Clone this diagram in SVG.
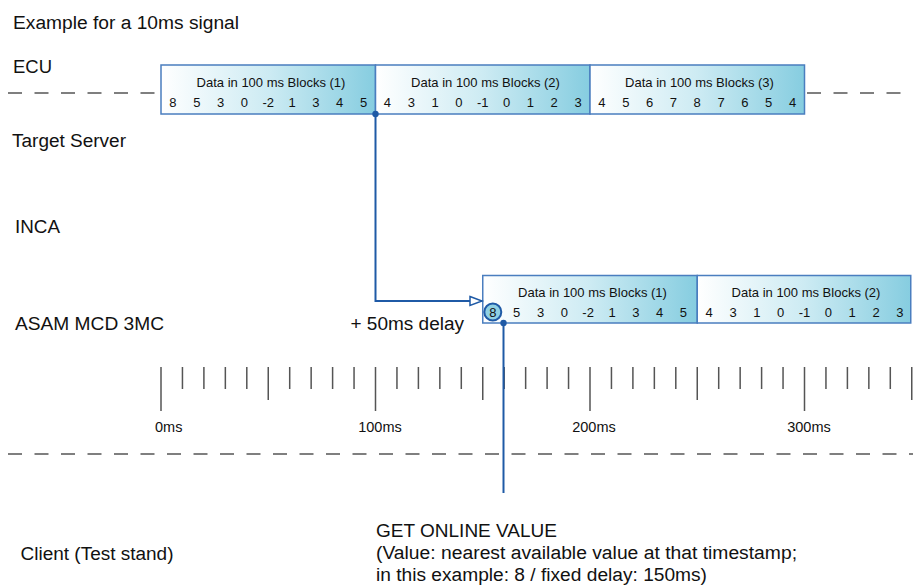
<svg xmlns="http://www.w3.org/2000/svg" width="913" height="588" viewBox="0 0 913 588">
<style>
text{font-family:"Liberation Sans",Arial,sans-serif;fill:#111}
.lbl{font-size:18px}
.hdr{font-size:13px;text-anchor:middle}
.num{font-size:13px;text-anchor:middle}
.tl{font-size:14.5px;text-anchor:middle}
.blk{fill:url(#g);stroke:#4a7ebf;stroke-width:1.5}
.dash{stroke:#555;stroke-width:1.5;stroke-dasharray:14 12.5;fill:none}
.tk{stroke:#555;stroke-width:1.5}
.con{stroke:#1f5aa6;stroke-width:2;fill:none}
</style>
<defs>
<linearGradient id="g" x1="0" y1="0" x2="1" y2="0">
<stop offset="0" stop-color="#ffffff"/>
<stop offset="0.5" stop-color="#cdebf3"/>
<stop offset="1" stop-color="#86cde0"/>
</linearGradient>
<marker id="arr" markerUnits="userSpaceOnUse" markerWidth="16" markerHeight="14" refX="13" refY="6" orient="auto" viewBox="0 0 16 12">
<path d="M1,1.5 L13,6 L1,10.5 Z" fill="#fff" stroke="#1f5aa6" stroke-width="1.5"/>
</marker>
</defs>
<rect width="913" height="588" fill="#fff"/>

<g id="labels">
<text class="lbl" x="13" y="29" textLength="226" lengthAdjust="spacingAndGlyphs">Example for a 10ms signal</text>
<text class="lbl" x="13" y="73" textLength="39" lengthAdjust="spacingAndGlyphs">ECU</text>
<text class="lbl" x="12" y="147" textLength="114" lengthAdjust="spacingAndGlyphs">Target Server</text>
<text class="lbl" x="15" y="233" textLength="45" lengthAdjust="spacingAndGlyphs">INCA</text>
<text class="lbl" x="15" y="329.5" textLength="149" lengthAdjust="spacingAndGlyphs">ASAM MCD 3MC</text>
<text class="lbl" x="20.5" y="560" textLength="153" lengthAdjust="spacingAndGlyphs">Client (Test stand)</text>
</g>

<g id="lanes">
<line class="dash" x1="8" y1="93" x2="161" y2="93"/>
<line class="dash" x1="807" y1="93" x2="913" y2="93"/>
<line class="dash" x1="8" y1="454" x2="913" y2="454"/>
</g>

<g id="ecu-block-1">
<rect class="blk" x="161" y="65" width="214.5" height="49"/>
<text class="hdr" x="271" y="87">Data in 100 ms Blocks (1)</text>
<text class="num" x="172.9" y="106.5">8</text><text class="num" x="196.8" y="106.5">5</text><text class="num" x="220.6" y="106.5">3</text><text class="num" x="244.4" y="106.5">0</text><text class="num" x="268.2" y="106.5">-2</text><text class="num" x="292.1" y="106.5">1</text><text class="num" x="315.9" y="106.5">3</text><text class="num" x="339.7" y="106.5">4</text><text class="num" x="363.6" y="106.5">5</text>
</g>
<g id="ecu-block-2">
<rect class="blk" x="375.5" y="65" width="214.5" height="49"/>
<text class="hdr" x="485.5" y="87">Data in 100 ms Blocks (2)</text>
<text class="num" x="387.4" y="106.5">4</text><text class="num" x="411.3" y="106.5">3</text><text class="num" x="435.1" y="106.5">1</text><text class="num" x="458.9" y="106.5">0</text><text class="num" x="482.7" y="106.5">-1</text><text class="num" x="506.6" y="106.5">0</text><text class="num" x="530.4" y="106.5">1</text><text class="num" x="554.2" y="106.5">2</text><text class="num" x="578.1" y="106.5">3</text>
</g>
<g id="ecu-block-3">
<rect class="blk" x="590" y="65" width="214.5" height="49"/>
<text class="hdr" x="699.5" y="87">Data in 100 ms Blocks (3)</text>
<text class="num" x="601.9" y="106.5">4</text><text class="num" x="625.8" y="106.5">5</text><text class="num" x="649.6" y="106.5">6</text><text class="num" x="673.4" y="106.5">7</text><text class="num" x="697.2" y="106.5">8</text><text class="num" x="721.1" y="106.5">7</text><text class="num" x="744.9" y="106.5">6</text><text class="num" x="768.7" y="106.5">5</text><text class="num" x="792.6" y="106.5">4</text>
</g>

<g id="asam-block-1">
<rect class="blk" x="482.75" y="275.5" width="214.5" height="47.5"/>
<text class="hdr" x="592.5" y="296.5">Data in 100 ms Blocks (1)</text>
<circle cx="492.8" cy="312" r="8.5" fill="#8fd0e3" stroke="#1f5aa6" stroke-width="2"/>
<text class="num" x="492.8" y="316.7">8</text><text class="num" x="516.6" y="316.7">5</text><text class="num" x="540.5" y="316.7">3</text><text class="num" x="564.3" y="316.7">0</text><text class="num" x="588.1" y="316.7">-2</text><text class="num" x="612" y="316.7">1</text><text class="num" x="635.8" y="316.7">3</text><text class="num" x="659.6" y="316.7">4</text><text class="num" x="683.4" y="316.7">5</text>
</g>
<g id="asam-block-2">
<rect class="blk" x="697.25" y="275.5" width="213.5" height="47.5"/>
<text class="hdr" x="806" y="296.5">Data in 100 ms Blocks (2)</text>
<text class="num" x="709.2" y="316.7">4</text><text class="num" x="733" y="316.7">3</text><text class="num" x="756.8" y="316.7">1</text><text class="num" x="780.7" y="316.7">0</text><text class="num" x="804.5" y="316.7">-1</text><text class="num" x="828.3" y="316.7">0</text><text class="num" x="852.2" y="316.7">1</text><text class="num" x="876" y="316.7">2</text><text class="num" x="899.8" y="316.7">3</text>
</g>

<g id="timeline">
<path class="tk" d="M161,367V411 M182.45,367V389 M203.9,367V389 M225.35,367V389 M246.8,367V389 M268.25,367V400 M289.7,367V389 M311.15,367V389 M332.6,367V389 M354.05,367V389 M375.5,367V411 M396.95,367V389 M418.4,367V389 M439.85,367V389 M461.3,367V389 M482.75,367V400 M504.2,367V389 M525.65,367V389 M547.1,367V389 M568.55,367V389 M590,367V411 M611.45,367V389 M632.9,367V389 M654.35,367V389 M675.8,367V389 M697.25,367V400 M718.7,367V389 M740.15,367V389 M761.6,367V389 M783.05,367V389 M804.5,367V411 M825.95,367V389 M847.4,367V389 M868.85,367V389 M890.3,367V389 M911.75,367V400"/>
<text class="tl" x="155" y="431.5" style="text-anchor:start">0ms</text>
<text class="tl" x="380" y="431.5">100ms</text>
<text class="tl" x="594" y="431.5">200ms</text>
<text class="tl" x="809" y="431.5">300ms</text>
</g>

<g id="connectors">
<path class="con" d="M375.5,114 V301 H482" marker-end="url(#arr)"/>
<circle cx="375.5" cy="114" r="3.2" fill="#1f5aa6"/>
<path class="con" d="M503.5,323 V493"/>
<circle cx="503.5" cy="323" r="3.2" fill="#1f5aa6"/>
</g>

<g id="annotations">
<text class="lbl" x="350.5" y="330" textLength="113.5" lengthAdjust="spacingAndGlyphs">+ 50ms delay</text>
<text class="lbl" x="376" y="536.5" textLength="181" lengthAdjust="spacingAndGlyphs">GET ONLINE VALUE</text>
<text class="lbl" x="376" y="558.5" textLength="421" lengthAdjust="spacingAndGlyphs">(Value: nearest available value at that timestamp;</text>
<text class="lbl" x="376" y="581" textLength="331" lengthAdjust="spacingAndGlyphs">in this example: 8 / fixed delay: 150ms)</text>
</g>
</svg>
